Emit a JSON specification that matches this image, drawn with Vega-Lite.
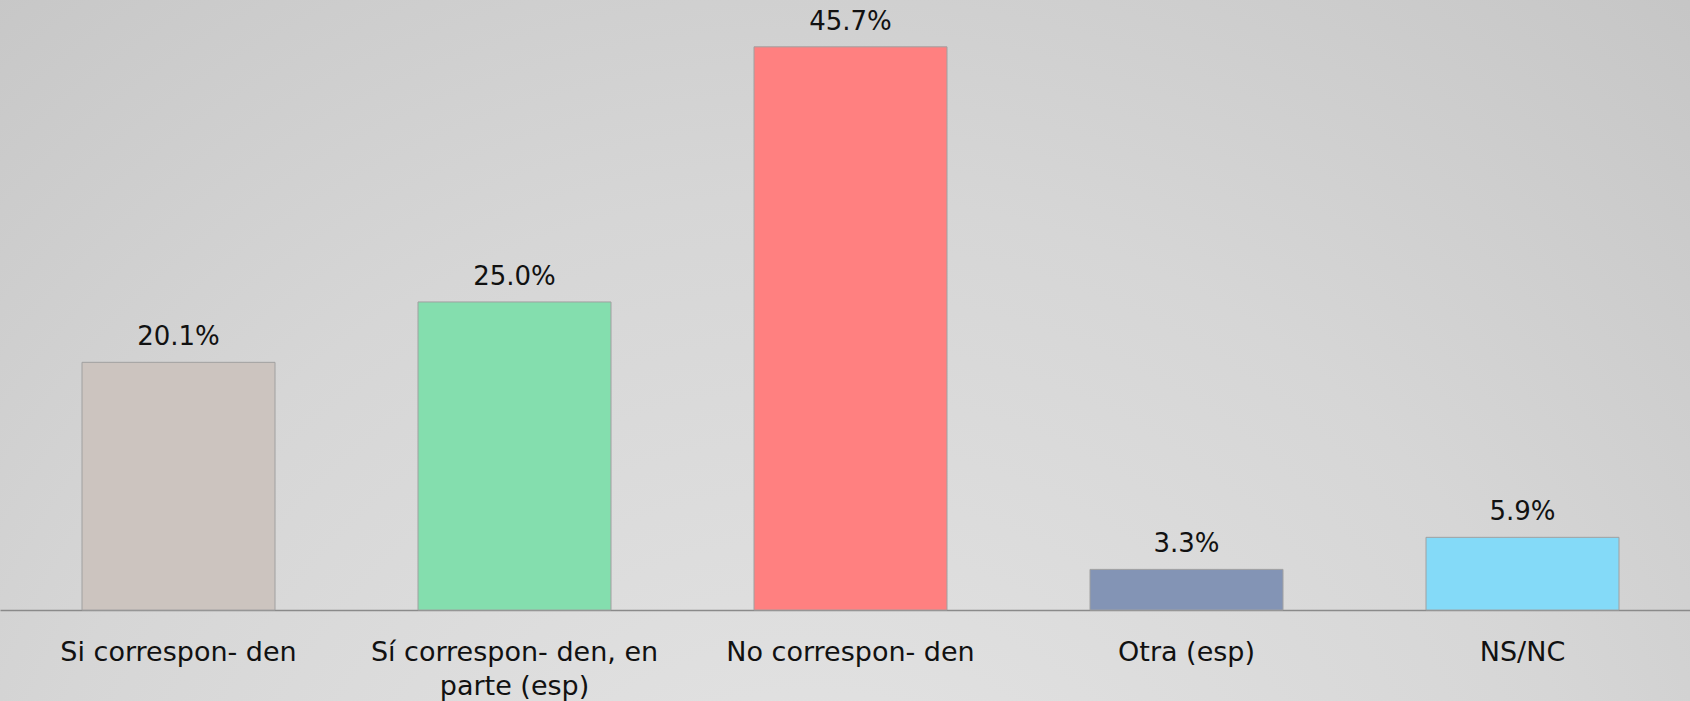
{
  "$schema": "https://vega.github.io/schema/vega-lite/v6.json",
  "width": 1690,
  "height": 701,
  "autosize": {"type": "none"},
  "padding": 0,
  "background": "#cccccc",
  "config": {
    "view": {
      "stroke": null,
      "fill": {
        "gradient": "radial",
        "x1": 0.48, "y1": 0.88, "r1": 0,
        "x2": 0.48, "y2": 0.88, "r2": 1.05,
        "stops": [
          {"offset": 0, "color": "#e6e6e6"},
          {"offset": 0.45, "color": "#d6d6d6"},
          {"offset": 0.8, "color": "#c3c3c3"},
          {"offset": 1, "color": "#b3b3b3"}
        ]
      }
    },
    "font": "DejaVu Sans"
  },
  "data": {
    "values": [
      {"cat": "Si correspon- den", "value": 20.1},
      {"cat": "Sí correspon- den, en parte (esp)", "value": 25.0},
      {"cat": "No correspon- den", "value": 45.7},
      {"cat": "Otra (esp)", "value": 3.3},
      {"cat": "NS/NC", "value": 5.9}
    ]
  },
  "transform": [
    {"calculate": "format(datum.value, '.1f') + '%'", "as": "label"}
  ],
  "encoding": {
    "x": {
      "field": "cat",
      "type": "nominal",
      "sort": null,
      "scale": {"paddingInner": 0.4256, "paddingOuter": 0.2277, "align": 0.536},
      "axis": {
        "title": null,
        "orient": "bottom",
        "offset": -91,
        "labelAngle": 0,
        "ticks": false,
        "domainColor": "#8a8a8a",
        "domainWidth": 1.5,
        "labelFontSize": 27,
        "labelColor": "#111111",
        "labelPadding": 29,
        "labelBaseline": "top",
        "labelLineHeight": 34,
        "labelLimit": 500,
        "labelExpr": "datum.label == 'Sí correspon- den, en parte (esp)' ? ['Sí correspon- den, en', 'parte (esp)'] : datum.label"
      }
    },
    "y": {
      "field": "value",
      "type": "quantitative",
      "scale": {"domain": [-7.38, 49.5], "nice": false, "zero": false},
      "axis": null
    }
  },
  "layer": [
    {
      "mark": {"type": "bar", "stroke": "#a0a0a0", "strokeWidth": 1},
      "encoding": {
        "y2": {"datum": 0},
        "color": {
          "field": "cat",
          "type": "nominal",
          "sort": null,
          "scale": {"range": ["#ccc4bf", "#84deae", "#ff8080", "#8394b5", "#84daf8"]},
          "legend": null
        }
      }
    },
    {
      "mark": {"type": "text", "baseline": "alphabetic", "dy": -17, "fontSize": 26, "color": "#111111"},
      "encoding": {"text": {"field": "label"}}
    }
  ]
}
